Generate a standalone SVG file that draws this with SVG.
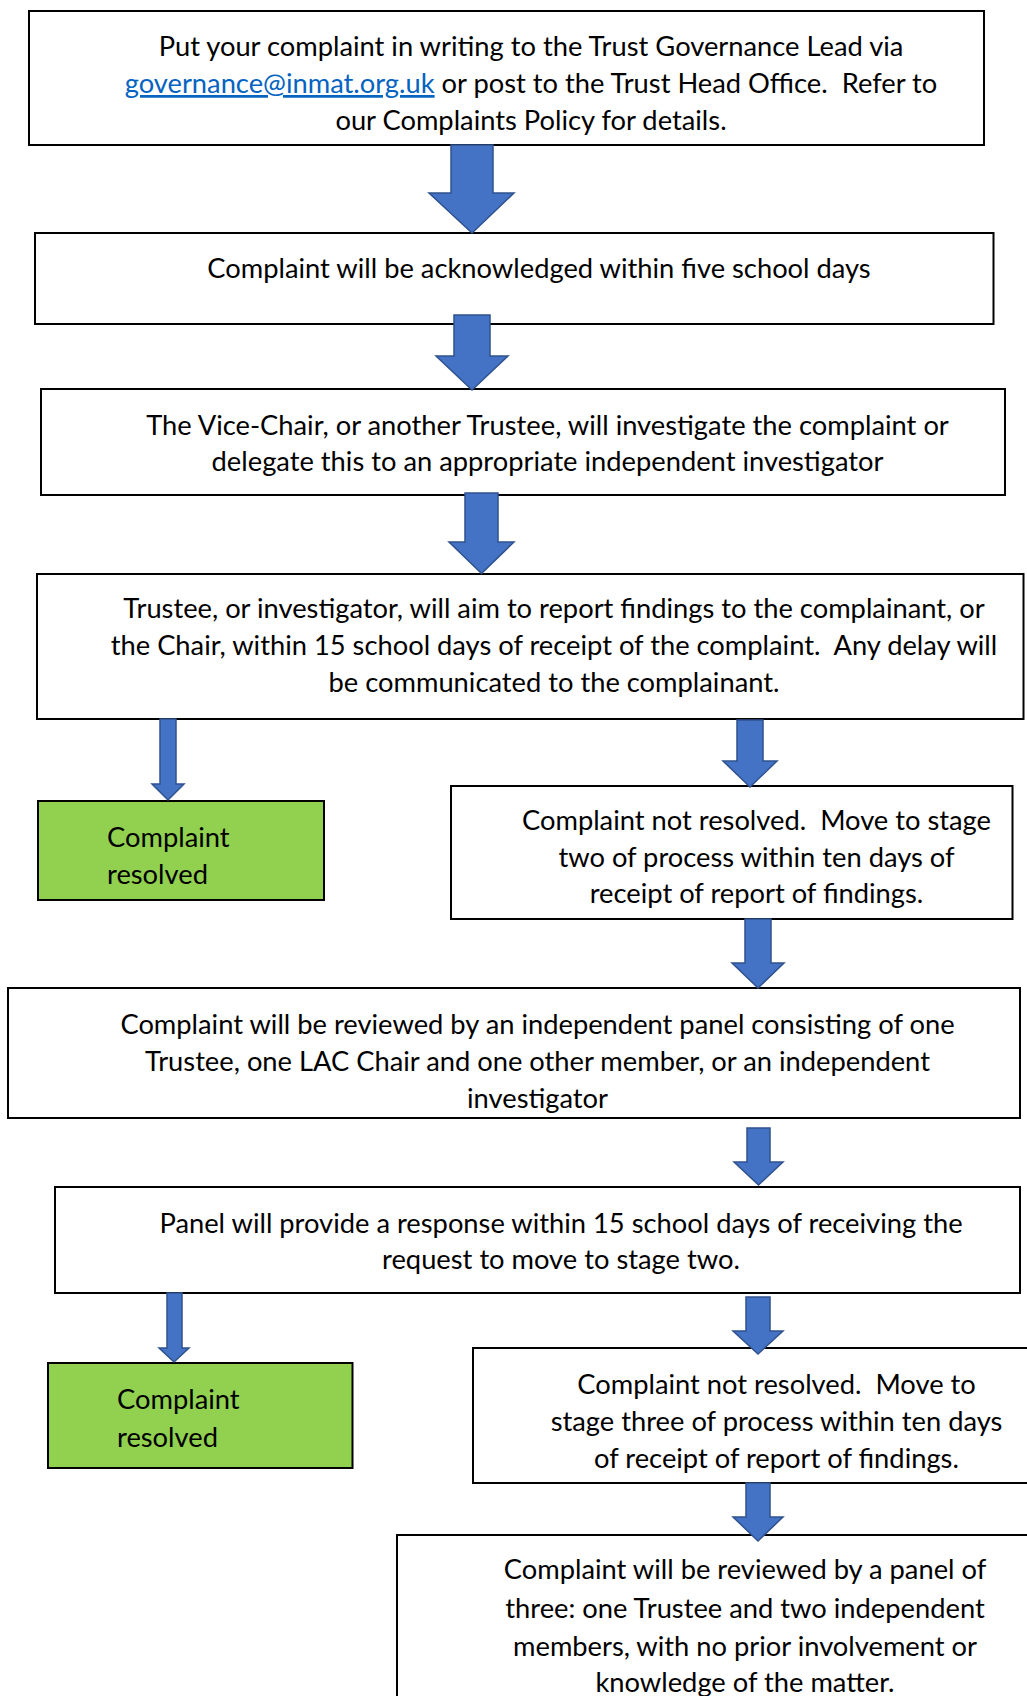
<svg xmlns="http://www.w3.org/2000/svg" width="1027" height="1696" viewBox="0 0 1027 1696">
<style>
.box{fill:#ffffff;stroke:#000000;stroke-width:2}
.green{fill:#92D050;stroke:#000000;stroke-width:2}
.t{font-family:Lato,"Liberation Sans",sans-serif;font-size:27.3px;fill:#000000;text-anchor:middle}
.l{font-family:Lato,"Liberation Sans",sans-serif;font-size:27.3px;fill:#000000}
.link{fill:#0563C1;text-decoration:underline}
.arrow{fill:#4472C4;stroke:#2F528F;stroke-width:1.5;stroke-linejoin:miter}
</style>
<rect x="0" y="0" width="1027" height="1696" fill="#ffffff"/>
<g id="nodes">
<g id="n1">
<rect class="box" x="29" y="11" width="955" height="134"/>
<text class="t" xml:space="preserve" x="531" y="56">Put your complaint in writing to the Trust Governance Lead via</text>
<text class="t" xml:space="preserve" x="531" y="93"><tspan class="link">governance@inmat.org.uk</tspan> or post to the Trust Head Office.  Refer to</text>
<text class="t" xml:space="preserve" x="531" y="130">our Complaints Policy for details.</text>
</g>
<g id="n2">
<rect class="box" x="35" y="233" width="958.5" height="91"/>
<text class="t" xml:space="preserve" x="539" y="278">Complaint will be acknowledged within five school days</text>
</g>
<g id="n3">
<rect class="box" x="41" y="389" width="964" height="106"/>
<text class="t" xml:space="preserve" x="547.5" y="435">The Vice-Chair, or another Trustee, will investigate the complaint or</text>
<text class="t" xml:space="preserve" x="547.5" y="471">delegate this to an appropriate independent investigator</text>
</g>
<g id="n4">
<rect class="box" x="37" y="574" width="986.5" height="145"/>
<text class="t" xml:space="preserve" x="554" y="618">Trustee, or investigator, will aim to report findings to the complainant, or</text>
<text class="t" xml:space="preserve" x="554" y="655">the Chair, within 15 school days of receipt of the complaint.  Any delay will</text>
<text class="t" xml:space="preserve" x="554" y="692">be communicated to the complainant.</text>
</g>
<g id="n5">
<rect class="green" x="38" y="801" width="286" height="99"/>
<text class="l" x="107" y="847">Complaint</text>
<text class="l" x="107" y="884">resolved</text>
</g>
<g id="n6">
<rect class="box" x="451" y="786" width="561.5" height="133"/>
<text class="t" xml:space="preserve" x="756.5" y="830">Complaint not resolved.  Move to stage</text>
<text class="t" xml:space="preserve" x="756.5" y="867">two of process within ten days of</text>
<text class="t" xml:space="preserve" x="756.5" y="903">receipt of report of findings.</text>
</g>
<g id="n7">
<rect class="box" x="8" y="988" width="1012" height="130"/>
<text class="t" xml:space="preserve" x="537.5" y="1034">Complaint will be reviewed by an independent panel consisting of one</text>
<text class="t" xml:space="preserve" x="537.5" y="1071">Trustee, one LAC Chair and one other member, or an independent</text>
<text class="t" xml:space="preserve" x="537.5" y="1108">investigator</text>
</g>
<g id="n8">
<rect class="box" x="55" y="1187" width="965" height="106"/>
<text class="t" xml:space="preserve" x="561" y="1233">Panel will provide a response within 15 school days of receiving the</text>
<text class="t" xml:space="preserve" x="561" y="1269">request to move to stage two.</text>
</g>
<g id="n9">
<rect class="green" x="48" y="1363" width="304.5" height="105"/>
<text class="l" x="117" y="1409">Complaint</text>
<text class="l" x="117" y="1447">resolved</text>
</g>
<g id="n10">
<rect class="box" x="473" y="1348" width="580" height="135"/>
<text class="t" xml:space="preserve" x="776.5" y="1394">Complaint not resolved.  Move to</text>
<text class="t" xml:space="preserve" x="776.5" y="1431">stage three of process within ten days</text>
<text class="t" xml:space="preserve" x="776.5" y="1468">of receipt of report of findings.</text>
</g>
<g id="n11">
<rect class="box" x="397" y="1535" width="700" height="200"/>
<text class="t" xml:space="preserve" x="745" y="1579">Complaint will be reviewed by a panel of</text>
<text class="t" xml:space="preserve" x="745" y="1617.5">three: one Trustee and two independent</text>
<text class="t" xml:space="preserve" x="745" y="1655.5">members, with no prior involvement or</text>
<text class="t" xml:space="preserve" x="745" y="1691.5">knowledge of the matter.</text>
</g>
</g>
<g id="connectors">
<polygon class="arrow" points="451,145 493,145 493,193 514,193 472,233 429,193 451,193"/>
<polygon class="arrow" points="454,315 490,315 490,356 508,356 472,390 436,356 454,356"/>
<polygon class="arrow" points="465,493 498,493 498,542 514,542 481.5,573.5 449,542 465,542"/>
<polygon class="arrow" points="160,719 176,719 176,784 184,784 168,800 152,784 160,784"/>
<polygon class="arrow" points="737,720 763,720 763,761 777,761 750,787 723,761 737,761"/>
<polygon class="arrow" points="745,919 771,919 771,963 784,963 758,988 732,963 745,963"/>
<polygon class="arrow" points="747,1128 770,1128 770,1162 783,1162 758.5,1185 734,1162 747,1162"/>
<polygon class="arrow" points="167,1293 182,1293 182,1348 189,1348 174,1362 159,1348 167,1348"/>
<polygon class="arrow" points="746,1297 770,1297 770,1331 783,1331 758,1354 733,1331 746,1331"/>
<polygon class="arrow" points="746,1483 770,1483 770,1517 783,1517 758,1541 733,1517 746,1517"/>
</g>
</svg>
